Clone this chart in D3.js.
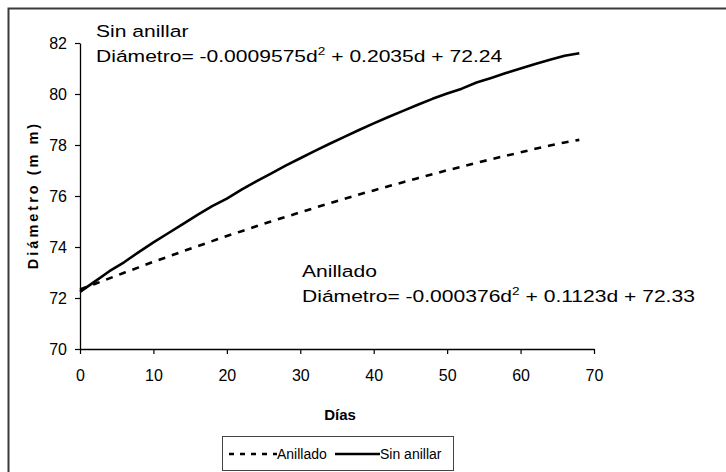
<!DOCTYPE html>
<html>
<head>
<meta charset="utf-8">
<script src="https://cdn.jsdelivr.net/npm/d3@7"></script>
<style>
  html, body { margin: 0; padding: 0; background: #fff; }
  svg { display: block; font-family: "Liberation Sans", Arial, sans-serif; }
  .tick text { font-size: 16px; }
</style>
</head>
<body>
<svg id="chart" width="726" height="472"></svg>
<script>
// Days of measurement
const dias = [0, 2, 4, 6, 8, 10, 12, 14, 16, 18, 20, 22, 24, 26, 28, 30, 32, 34,
              36, 38, 40, 42, 44, 46, 48, 50, 52, 54, 56, 58, 60, 62, 64, 66, 68];
// Ringed fruit diameter (mm)
const anillado = [72.33, 72.55, 72.77, 72.99, 73.20, 73.42, 73.62, 73.83, 74.03, 74.23,
                  74.43, 74.62, 74.81, 75.00, 75.18, 75.36, 75.54, 75.71, 75.89, 76.06,
                  76.22, 76.38, 76.54, 76.70, 76.85, 77.01, 77.15, 77.30, 77.44, 77.58,
                  77.71, 77.85, 77.98, 78.10, 78.20];
// Non-ringed fruit diameter (mm)
const sinAnillar = [72.24, 72.64, 73.05, 73.40, 73.80, 74.18, 74.54, 74.90, 75.26, 75.60,
                    75.90, 76.25, 76.57, 76.88, 77.19, 77.48, 77.77, 78.05, 78.32, 78.59,
                    78.85, 79.10, 79.34, 79.58, 79.81, 80.02, 80.21, 80.45, 80.63, 80.82,
                    81.00, 81.18, 81.34, 81.50, 81.60];
const xTicks = [0, 10, 20, 30, 40, 50, 60, 70];
const yTicks = [70, 72, 74, 76, 78, 80, 82];

const svg = d3.select("#chart");

// chart frame
svg.append("rect")
  .attr("x", 8.5).attr("y", 8.5)
  .attr("width", 740).attr("height", 500)
  .attr("fill", "none").attr("stroke", "#3a3a3a").attr("stroke-width", 2);

const x = d3.scaleLinear().domain([0, 70]).range([80, 594]);
const y = d3.scaleLinear().domain([70, 82]).range([349, 43]);

// axes
const xAxis = svg.append("g")
  .attr("transform", `translate(0,${y(70)})`)
  .call(d3.axisBottom(x).tickValues(xTicks).tickSize(5).tickPadding(16).tickSizeOuter(0));
const yAxis = svg.append("g")
  .attr("transform", `translate(${x(0)},0)`)
  .call(d3.axisLeft(y).tickValues(yTicks).tickSize(5).tickPadding(8).tickSizeOuter(0));

[xAxis, yAxis].forEach(g => {
  g.attr("font-size", 16).attr("font-family", "'Liberation Sans', Arial, sans-serif");
  g.select(".domain").attr("stroke", "#000").attr("stroke-width", 1.3);
  g.selectAll(".tick line").attr("stroke", "#000").attr("stroke-width", 1.2);
  g.selectAll(".tick text").attr("fill", "#000").attr("font-size", 16);
});

// series lines
const lineA = d3.line().x((d, i) => x(dias[i])).y(d => y(d));
svg.append("path")
  .datum(anillado)
  .attr("d", lineA)
  .attr("fill", "none")
  .attr("stroke", "#000")
  .attr("stroke-width", 2.6)
  .attr("stroke-dasharray", "7,7");
svg.append("path")
  .datum(sinAnillar)
  .attr("d", lineA)
  .attr("fill", "none")
  .attr("stroke", "#000")
  .attr("stroke-width", 2.6)
  .attr("stroke-linejoin", "round");

// axis titles
svg.append("text")
  .attr("x", 340).attr("y", 420)
  .attr("text-anchor", "middle")
  .style("font-size", "15px").style("font-weight", "bold")
  .text("Días");
svg.append("text")
  .attr("transform", "translate(38,195) rotate(-90)")
  .attr("text-anchor", "middle")
  .style("font-size", "14.5px").style("font-weight", "bold")
  .style("letter-spacing", "3px")
  .text("Diámetro (m m)");

// fitted equations, drawn slightly widened
function equation(xPos, yPos, title, a, rest) {
  const g = svg.append("g").attr("transform", `translate(${xPos},${yPos}) scale(1.24,1)`);
  g.append("text").attr("x", 0).attr("y", 0)
    .style("font-size", "17px").text(title);
  const t = g.append("text").attr("x", 0).attr("y", 25)
    .style("font-size", "17px");
  t.append("tspan").text(a);
  t.append("tspan").attr("dy", -7).style("font-size", "11px").text("2");
  t.append("tspan").attr("dy", 7).text(rest);
}
equation(96, 37, "Sin anillar", "Diámetro= -0.0009575d", " + 0.2035d + 72.24");
equation(302, 277, "Anillado", "Diámetro= -0.000376d", " + 0.1123d + 72.33");

// legend
const lg = svg.append("g");
lg.append("rect")
  .attr("x", 222.5).attr("y", 436.5).attr("width", 231).attr("height", 34)
  .attr("fill", "#fff").attr("stroke", "#444").attr("stroke-width", 1);
lg.append("line")
  .attr("x1", 229).attr("x2", 277).attr("y1", 454).attr("y2", 454)
  .attr("stroke", "#000").attr("stroke-width", 2.6).attr("stroke-dasharray", "5,6");
lg.append("text").attr("x", 277).attr("y", 459)
  .style("font-size", "14px").text("Anillado");
lg.append("line")
  .attr("x1", 335).attr("x2", 380).attr("y1", 454).attr("y2", 454)
  .attr("stroke", "#000").attr("stroke-width", 2.6);
lg.append("text").attr("x", 380).attr("y", 459)
  .style("font-size", "14px").text("Sin anillar");
</script>
</body>
</html>
